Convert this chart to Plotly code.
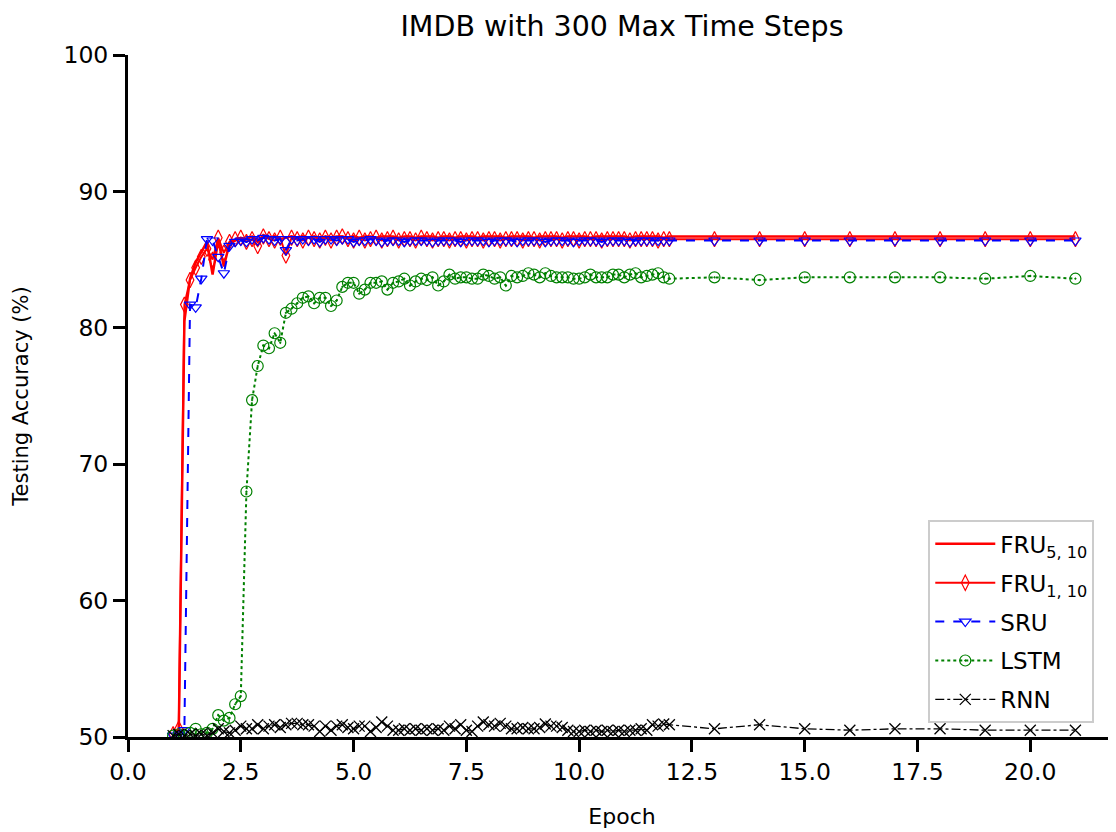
import plotly.graph_objects as go

epochs = [
    1.0, 1.125, 1.25, 1.375, 1.5, 1.625, 1.75, 1.875,
    2.0, 2.125, 2.25, 2.375, 2.5, 2.625, 2.75, 2.875,
    3.0, 3.125, 3.25, 3.375, 3.5, 3.625, 3.75, 3.875,
    4.0, 4.125, 4.25, 4.375, 4.5, 4.625, 4.75, 4.875,
    5.0, 5.125, 5.25, 5.375, 5.5, 5.625, 5.75, 5.875,
    6.0, 6.125, 6.25, 6.375, 6.5, 6.625, 6.75, 6.875,
    7.0, 7.125, 7.25, 7.375, 7.5, 7.625, 7.75, 7.875,
    8.0, 8.125, 8.25, 8.375, 8.5, 8.625, 8.75, 8.875,
    9.0, 9.125, 9.25, 9.375, 9.5, 9.625, 9.75, 9.875,
    10.0, 10.125, 10.25, 10.375, 10.5, 10.625, 10.75, 10.875,
    11.0, 11.125, 11.25, 11.375, 11.5, 11.625, 11.75, 11.875,
    12.0,
    13, 14, 15, 16, 17, 18, 19, 20, 21,
]

fru_5_10 = [
    50.1, 50.3, 80.5, 83.6, 84.8, 85.6, 86.3, 83.9,
    86.4, 84.5, 86.2, 86.4, 86.6, 86.5, 86.7, 86.3,
    86.8, 86.6, 86.7, 86.5, 86.6, 86.7, 86.6, 86.7,
    86.6, 86.7, 86.5, 86.7, 86.6, 86.7, 86.7, 86.6,
    86.7, 86.6, 86.7, 86.7, 86.6, 86.7, 86.7, 86.7,
    86.6, 86.7, 86.7, 86.6, 86.7, 86.7, 86.7, 86.6,
    86.7, 86.7, 86.6, 86.7, 86.7, 86.7, 86.6, 86.7,
    86.7, 86.7, 86.7, 86.6, 86.7, 86.7, 86.7, 86.7,
    86.6, 86.7, 86.7, 86.7, 86.7, 86.6, 86.7, 86.7,
    86.7, 86.7, 86.6, 86.7, 86.7, 86.7, 86.7, 86.7,
    86.7, 86.6, 86.7, 86.7, 86.7, 86.7, 86.7, 86.6,
    86.7,
    86.7, 86.7, 86.7, 86.7, 86.7, 86.7, 86.7, 86.7, 86.7,
]

fru_1_10 = [
    50.2, 50.6, 81.7, 83.5, 84.4, 85.2, 85.8, 85.0,
    86.6, 85.5, 86.3, 86.5, 86.6, 86.3, 86.5, 86.0,
    86.7, 86.5, 86.4, 86.6, 85.3, 86.6, 86.5, 86.4,
    86.6, 86.5, 86.4, 86.6, 86.4, 86.6, 86.7, 86.5,
    86.4, 86.6, 86.4, 86.5, 86.6, 86.4, 86.5, 86.6,
    86.4, 86.5, 86.5, 86.4, 86.6, 86.5, 86.4, 86.5,
    86.5, 86.4, 86.5, 86.5, 86.4, 86.5, 86.5, 86.4,
    86.5, 86.5, 86.4, 86.5, 86.5, 86.5, 86.4, 86.5,
    86.5, 86.4, 86.5, 86.5, 86.5, 86.4, 86.5, 86.5,
    86.4, 86.5, 86.5, 86.5, 86.4, 86.5, 86.5, 86.5,
    86.5, 86.4, 86.5, 86.5, 86.5, 86.5, 86.4, 86.5,
    86.5,
    86.5, 86.5, 86.5, 86.5, 86.5, 86.5, 86.5, 86.5, 86.5,
]

sru = [
    50.1, 50.2, 50.5, 81.7, 81.5, 83.6, 86.5, 86.4,
    85.2, 84.0, 86.0, 86.3, 86.4, 86.3, 86.5, 86.4,
    86.6, 86.5, 86.4, 86.5, 85.7, 86.5, 86.4, 86.5,
    86.4, 86.5, 86.3, 86.5, 86.5, 86.4, 86.5, 86.5,
    86.3, 86.4, 86.4, 86.5, 86.4, 86.3, 86.4, 86.4,
    86.4, 86.3, 86.4, 86.4, 86.4, 86.4, 86.3, 86.4,
    86.4, 86.4, 86.4, 86.3, 86.4, 86.4, 86.4, 86.4,
    86.3, 86.4, 86.4, 86.4, 86.4, 86.3, 86.4, 86.4,
    86.4, 86.4, 86.3, 86.4, 86.4, 86.4, 86.4, 86.3,
    86.4, 86.4, 86.4, 86.4, 86.3, 86.4, 86.4, 86.4,
    86.4, 86.3, 86.4, 86.4, 86.4, 86.4, 86.4, 86.4,
    86.4,
    86.4, 86.4, 86.4, 86.4, 86.4, 86.4, 86.4, 86.4, 86.4,
]

lstm = [
    50.1, 50.2, 50.1, 50.3, 50.6, 50.2, 50.3, 50.6,
    51.6, 51.2, 51.4, 52.4, 53.0, 68.0, 74.7, 77.2,
    78.7, 78.5, 79.6, 78.9, 81.1, 81.4, 81.8, 82.2,
    82.3, 81.8, 82.2, 82.2, 81.6, 82.0, 83.0, 83.3,
    83.3, 82.5, 82.8, 83.3, 83.3, 83.4, 82.8, 83.3,
    83.4, 83.6, 83.1, 83.4, 83.6, 83.5, 83.7, 83.1,
    83.4, 83.9, 83.6, 83.7, 83.7, 83.6, 83.6, 83.9,
    83.8, 83.6, 83.7, 83.1, 83.8, 83.7, 83.8, 84.0,
    83.9, 83.7, 84.0, 83.8, 83.7, 83.7, 83.7, 83.6,
    83.6, 83.7, 83.9, 83.7, 83.7, 83.7, 83.9, 83.9,
    83.7, 83.9, 84.0, 83.7, 83.8, 83.9, 84.0, 83.7,
    83.6,
    83.7, 83.5, 83.7, 83.7, 83.7, 83.7, 83.6, 83.8, 83.6,
]

rnn = [
    50.1, 50.2, 50.1, 50.2, 50.1, 50.2, 50.1, 50.3,
    50.6, 50.4, 50.3, 50.5, 50.8, 50.6, 50.6, 50.9,
    50.6, 50.8, 50.9, 50.7, 50.9, 51.0, 51.0, 50.9,
    50.9, 50.8, 50.4, 50.8, 50.5, 50.8, 50.9, 50.7,
    50.6, 50.8, 50.8, 50.4, 50.7, 51.1, 50.8, 50.5,
    50.5, 50.6, 50.5, 50.6, 50.5, 50.6, 50.5, 50.6,
    50.5, 50.8, 50.6, 50.9, 50.5, 50.4, 50.8, 51.1,
    50.9, 50.8, 51.0, 50.8, 50.6, 50.6, 50.7, 50.6,
    50.6, 50.7, 50.95, 50.8, 50.8, 50.7, 50.5, 50.4,
    50.4, 50.5, 50.4, 50.5, 50.4, 50.5, 50.4, 50.5,
    50.4, 50.5, 50.5, 50.6, 50.5, 50.9, 50.8, 50.95,
    50.9,
    50.6, 50.9, 50.6, 50.5, 50.6, 50.6, 50.5, 50.5, 50.5,
]

x_ticks = [0, 2.5, 5, 7.5, 10, 12.5, 15, 17.5, 20]
x_tick_labels = ["0.0", "2.5", "5.0", "7.5", "10.0", "12.5", "15.0", "17.5", "20.0"]
y_ticks = [50, 60, 70, 80, 90, 100]

FONT = "DejaVu Sans"

fig = go.Figure()

fig.add_trace(go.Scatter(
    x=epochs, y=fru_5_10, mode="lines", name="FRU<sub>5, 10</sub>",
    legendgroup="a",
    line=dict(color="#ff0000", width=2.5),
))
fig.add_trace(go.Scatter(
    x=epochs, y=fru_1_10, mode="lines+markers", name="FRU<sub>1, 10</sub>",
    legendgroup="b",
    line=dict(color="#ff0000", width=2),
    marker=dict(symbol="diamond-tall-open", size=11, color="#ff0000",
                line=dict(width=1.2, color="#ff0000")),
))
fig.add_trace(go.Scatter(
    x=epochs, y=sru, mode="lines+markers", name="SRU",
    legendgroup="c",
    line=dict(color="#0000ff", width=2, dash="dash"),
    marker=dict(symbol="triangle-down-open", size=10, color="#0000ff",
                line=dict(width=1.2, color="#0000ff")),
))
fig.add_trace(go.Scatter(
    x=epochs, y=lstm, mode="lines+markers", name="LSTM",
    legendgroup="d",
    line=dict(color="#008000", width=2, dash="dot"),
    marker=dict(symbol="circle-open-dot", size=11, color="#008000",
                line=dict(width=1.2, color="#008000")),
))
fig.add_trace(go.Scatter(
    x=epochs, y=rnn, mode="lines+markers", name="RNN",
    legendgroup="e",
    line=dict(color="#000000", width=1.3, dash="dashdot"),
    marker=dict(symbol="x-thin-open", size=11, color="#000000",
                line=dict(width=1.3, color="#000000")),
))

# The page body adds an 8px margin, so the figure is 8px smaller than the window.
fig.update_layout(
    width=1108, height=824,
    margin=dict(l=120, r=0, t=47, b=95, autoexpand=False),
    paper_bgcolor="white", plot_bgcolor="white",
    font=dict(family=FONT, color="black"),
    title=dict(text="IMDB with 300 Max Time Steps", x=0.5, xref="paper",
               y=0.978, yref="container", yanchor="middle",
               font=dict(size=28.5, family=FONT, color="black")),
    showlegend=True,
    legend=dict(
        x=0.81, y=0.02, xanchor="left", yanchor="bottom",
        bgcolor="white", bordercolor="#cccccc", borderwidth=2,
        font=dict(size=23, family=FONT, color="black"),
        tracegroupgap=6, itemwidth=60,
    ),
    xaxis=dict(
        range=[0, 21.9], tickvals=x_ticks, ticktext=x_tick_labels,
        showgrid=False, zeroline=False, automargin=False,
        showline=True, linecolor="black", linewidth=3,
        ticks="outside", ticklen=12, tickwidth=3, tickcolor="black",
        tickfont=dict(size=23.5, family=FONT, color="black"),
        title=dict(text="Epoch", font=dict(size=22, family=FONT, color="black"), standoff=24),
    ),
    yaxis=dict(
        range=[50, 100], tickvals=y_ticks,
        showgrid=False, zeroline=False, automargin=False,
        showline=True, linecolor="black", linewidth=3,
        ticks="outside", ticklen=12, tickwidth=3, tickcolor="black",
        tickfont=dict(size=23.5, family=FONT, color="black"),
        title=dict(text="Testing Accuracy (%)", font=dict(size=21, family=FONT, color="black"), standoff=30),
    ),
)

fig.write_html("out.html")
